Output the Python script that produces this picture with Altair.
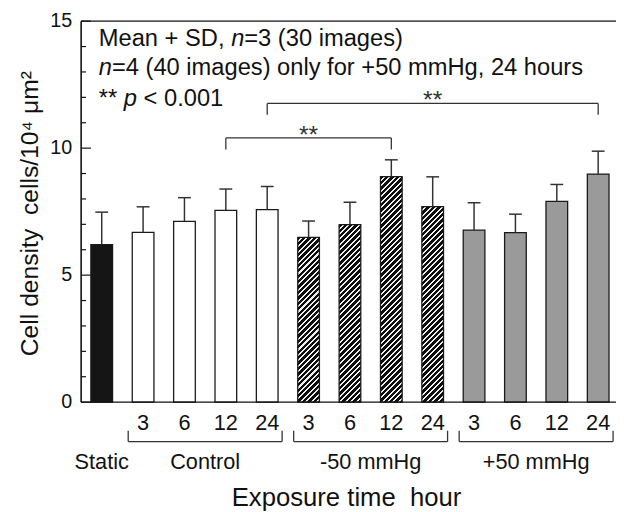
import math
import altair as alt
import pandas as pd

# ---------------- data ----------------
categories = ["Static", "Control 3", "Control 6", "Control 12", "Control 24",
              "-50 mmHg 3", "-50 mmHg 6", "-50 mmHg 12", "-50 mmHg 24",
              "+50 mmHg 3", "+50 mmHg 6", "+50 mmHg 12", "+50 mmHg 24"]
conditions = ["Static", "Control", "Control", "Control", "Control",
              "-50 mmHg", "-50 mmHg", "-50 mmHg", "-50 mmHg",
              "+50 mmHg", "+50 mmHg", "+50 mmHg", "+50 mmHg"]
time_labels = ["", "3", "6", "12", "24", "3", "6", "12", "24", "3", "6", "12", "24"]
means = [6.20, 6.68, 7.12, 7.55, 7.58, 6.49, 6.99, 8.88, 7.70, 6.77, 6.67, 7.90, 8.98]
sds = [1.28, 1.01, 0.93, 0.84, 0.91, 0.64, 0.88, 0.66, 1.17, 1.08, 0.73, 0.67, 0.90]

group_names = ["Static", "Control", "-50 mmHg", "+50 mmHg"]
group_first = [0, 1, 5, 9]
group_last = [0, 4, 8, 12]
group_bracket = [False, True, True, True]

sig_left = [3, 4]
sig_right = [7, 12]
sig_level = [10.40, 11.76]
sig_drop = [9.95, 11.31]
sig_text = ["**", "**"]

y_major = [0, 5, 10, 15]
y_major_labels = ["0", "5", "10", "15"]
y_minor = [1, 2, 3, 4, 6, 7, 8, 9, 11, 12, 13, 14]

note_text = ["Mean + SD, ", "n", "=3 (30 images)",
             "n", "=4 (40 images) only for +50 mmHg, 24 hours",
             "** ", "p", " < 0.001"]
note_line = [0, 0, 0, 1, 1, 2, 2, 2]
note_italic = [False, True, False, True, False, False, True, False]

y_title = "Cell density\u00a0 cells/10\u2074 \u03bcm\u00b2"
x_title = "Exposure time\u00a0 hour"

# ---------------- layout / style ----------------
FONT = "Liberation Sans"
W, H = 534, 386
XMIN, XMAX = -0.5, 12.24
YMAX = 15
HALF = 0.262
CAP = 0.155
PXU_X = W / (XMAX - XMIN)
PXU_Y = H / YMAX
INK = "#111111"
fill_map = {"Static": "#151515", "Control": "#ffffff", "+50 mmHg": "#9a9a9a"}

ARIAL = {" ": 278, "M": 833, "e": 556, "a": 556, "n": 556, "+": 584, "S": 667, "D": 722,
         ",": 278, "=": 584, "(": 333, ")": 333, "i": 222, "m": 833, "g": 556, "s": 500,
         "o": 556, "l": 222, "y": 500, "f": 278, "r": 333, "H": 722, "h": 556, "u": 556,
         "*": 389, "p": 556, "<": 584, ".": 278, "t": 278}


def tw(s, size):
    return sum(ARIAL.get(c, 556) for c in s) / 1000.0 * size


NOTE_SIZE = 24
NOTE_X0 = 18
NOTE_BASE = [25, 55, 86]

# ---------------- tables ----------------
idx = list(range(len(categories)))
bars = pd.DataFrame({
    "cat": categories, "cond": conditions, "time": time_labels,
    "mean": means, "sd": sds, "i": idx,
})
bars["upper"] = bars["mean"] + bars["sd"]
bars["lo"] = bars["i"] - HALF
bars["hi"] = bars["i"] + HALF
bars["clo"] = bars["i"] - CAP
bars["chi"] = bars["i"] + CAP
bars["zero"] = 0.0

groups = pd.DataFrame({"name": group_names, "first": group_first, "last": group_last,
                       "br": group_bracket})
groups["mid"] = (groups["first"] + groups["last"]) / 2
groups["blo"] = groups["first"] - 0.36
groups["bhi"] = groups["last"] + 0.36
gbr = groups[groups["br"]]
gends = pd.DataFrame({"x": list(gbr["blo"]) + list(gbr["bhi"])})

sig = pd.DataFrame({"l": sig_left, "r": sig_right, "lev": sig_level, "drop": sig_drop,
                    "txt": sig_text})
sig["mid"] = (sig["l"] + sig["r"]) / 2
sig_ends = pd.DataFrame({"x": list(sig["l"]) + list(sig["r"]),
                         "lev": list(sig["lev"]) * 2, "drop": list(sig["drop"]) * 2})

note_rows = []
cum = {0: NOTE_X0, 1: NOTE_X0, 2: NOTE_X0}
for t, ln, it in zip(note_text, note_line, note_italic):
    lead = len(t) - len(t.lstrip(" "))
    x = cum[ln] + tw(" " * lead, NOTE_SIZE)
    note_rows.append((t.strip(), x, NOTE_BASE[ln], it))
    cum[ln] += tw(t, NOTE_SIZE)

ymaj = pd.DataFrame({"v": y_major, "lab": y_major_labels})
ymin = pd.DataFrame({"v": y_minor})
one = pd.DataFrame({"xa": [XMIN], "a": [0], "b": [YMAX]})

xs = alt.Scale(domain=[XMIN, XMAX], nice=False, zero=False)
ys = alt.Scale(domain=[0, YMAX], nice=False, zero=False)


def X(f):
    return alt.X(f, type="quantitative", scale=xs, axis=None)


def Y(f):
    return alt.Y(f, type="quantitative", scale=ys, axis=None)


layers = []

# native y axis: domain line only (labels/ticks drawn as marks below)
layers.append(alt.Chart(ymaj).mark_point(opacity=0, size=1).encode(
    x=alt.value(0),
    y=alt.Y("v:Q", scale=ys, axis=alt.Axis(
        labels=False, ticks=False, grid=False, title=None, domain=True,
        domainColor=INK, domainWidth=1.4)),
))

# plain-filled bars
plain = bars[bars["cond"].isin(list(fill_map.keys()))]
layers.append(
    alt.Chart(plain).mark_rect(stroke="#1a1a1a", strokeWidth=1.3).encode(
        x=X("lo"), x2="hi", y=Y("mean"), y2="zero",
        fill=alt.Fill("cond:N", scale=alt.Scale(domain=list(fill_map.keys()),
                                                range=list(fill_map.values())), legend=None),
    )
)

# hatched bars: one diagonal-stripe gradient per bar
STRIPE = 5.5
BLACK_FRAC = 0.62
bw = 2 * HALF * PXU_X
for _, r in bars[bars["cond"] == "-50 mmHg"].iterrows():
    h = r["mean"] * PXU_Y
    L = bw + h
    s = L * bw / (bw * bw + h * h)
    stops = []
    k = 0
    while k * STRIPE < L:
        a = k * STRIPE / L
        b = min(1.0, (k + BLACK_FRAC) * STRIPE / L)
        c = min(1.0, (k + 1) * STRIPE / L)
        stops += [{"offset": a, "color": "#0d0d0d"}, {"offset": b, "color": "#0d0d0d"},
                  {"offset": b, "color": "#eeeeee"}, {"offset": c, "color": "#eeeeee"}]
        k += 1
    grad = {"gradient": "linear", "x1": 0, "y1": 0, "x2": s, "y2": s * h / bw,
            "stops": stops}
    sub = bars[bars["i"] == r["i"]]
    layers.append(
        alt.Chart(sub).mark_rect(stroke="#1a1a1a", strokeWidth=1.3).encode(
            x=X("lo"), x2="hi", y=Y("mean"), y2="zero", fill=alt.value(grad)
        )
    )

# error bars
layers.append(alt.Chart(bars).mark_rule(color="#333333", strokeWidth=1.5).encode(
    x=X("i"), y=Y("mean"), y2="upper"))
layers.append(alt.Chart(bars).mark_rule(color="#333333", strokeWidth=1.5).encode(
    x=X("clo"), x2="chi", y=Y("upper")))

# frame: y axis line (thin rect), bottom axis line and top line
layers.append(alt.Chart(one).mark_rect(color=INK, fill=INK, strokeWidth=0).encode(
    x=alt.value(-0.7), x2=alt.value(0.9), y=Y("b"), y2="a"))
layers.append(alt.Chart(ymaj[ymaj["v"] == 0]).mark_rule(color=INK, strokeWidth=1.3).encode(
    x=alt.value(0), x2=alt.value(W + 8), y=Y("v")))
layers.append(alt.Chart(ymaj[ymaj["v"] == YMAX]).mark_rule(color=INK, strokeWidth=1.3).encode(
    x=alt.value(0), x2=alt.value(W + 8), y=Y("v")))

# inward y ticks
layers.append(alt.Chart(ymaj).mark_rule(color=INK, strokeWidth=1.2).encode(
    x=alt.value(0), x2=alt.value(10), y=Y("v")))
layers.append(alt.Chart(ymin).mark_rule(color=INK, strokeWidth=1.2).encode(
    x=alt.value(0), x2=alt.value(5), y=Y("v")))

# y tick labels
layers.append(alt.Chart(ymaj).mark_text(font=FONT, fontSize=20, color=INK,
                                        baseline="middle", align="right").encode(
    x=alt.value(-9), y=Y("v"), text="lab:N"))

# y title
layers.append(alt.Chart(one).mark_text(font=FONT, fontSize=25, color=INK, angle=270,
                                       baseline="middle", align="center",
                                       text=y_title).encode(
    x=alt.value(-52), y=alt.value(H / 2 + 2)))

# time labels under the axis
layers.append(alt.Chart(bars).mark_text(font=FONT, fontSize=22, color=INK,
                                        baseline="middle", align="center").encode(
    x=X("i"), y=alt.value(H + 21), text="time:N"))

# group brackets
layers.append(alt.Chart(gbr).mark_rule(color="#333333", strokeWidth=1.3).encode(
    x=X("blo"), x2="bhi", y=alt.value(H + 40)))
layers.append(alt.Chart(gends).mark_rule(color="#333333", strokeWidth=1.3).encode(
    x=X("x"), y=alt.value(H + 29), y2=alt.value(H + 40)))

# group labels
layers.append(alt.Chart(groups).mark_text(font=FONT, fontSize=22, color=INK,
                                          baseline="middle", align="center").encode(
    x=X("mid"), y=alt.value(H + 61), text="name:N"))

# x title
layers.append(alt.Chart(one).mark_text(font=FONT, fontSize=26, color=INK,
                                       baseline="alphabetic", align="center",
                                       text=x_title).encode(
    x=alt.value(W / 2 + 2), y=alt.value(H + 105)))

# significance brackets
layers.append(alt.Chart(sig).mark_rule(color="#333333", strokeWidth=1.3).encode(
    x=X("l"), x2="r", y=Y("lev")))
layers.append(alt.Chart(sig_ends).mark_rule(color="#333333", strokeWidth=1.3).encode(
    x=X("x"), y=Y("lev"), y2="drop"))
layers.append(alt.Chart(sig).mark_text(font=FONT, fontSize=25, color="#333333",
                                       baseline="alphabetic", align="center", dy=5).encode(
    x=X("mid"), y=Y("lev"), text="txt:N"))

# notes (with italic segments), one text mark per segment
for t, px, py, it in note_rows:
    layers.append(alt.Chart(one).mark_text(
        font=FONT, fontSize=NOTE_SIZE, color=INK, baseline="alphabetic", align="left",
        fontStyle="italic" if it else "normal", text=t).encode(
        x=alt.value(px), y=alt.value(py)))

chart = alt.layer(*layers).properties(
    width=W, height=H,
    autosize=alt.AutoSizeParams(type="none"),
    padding={"left": 74, "top": 10, "right": 8, "bottom": 108},
).configure(font=FONT).configure_view(stroke=None)

chart.save("out.html", embed_options={"renderer": "svg", "actions": False})
